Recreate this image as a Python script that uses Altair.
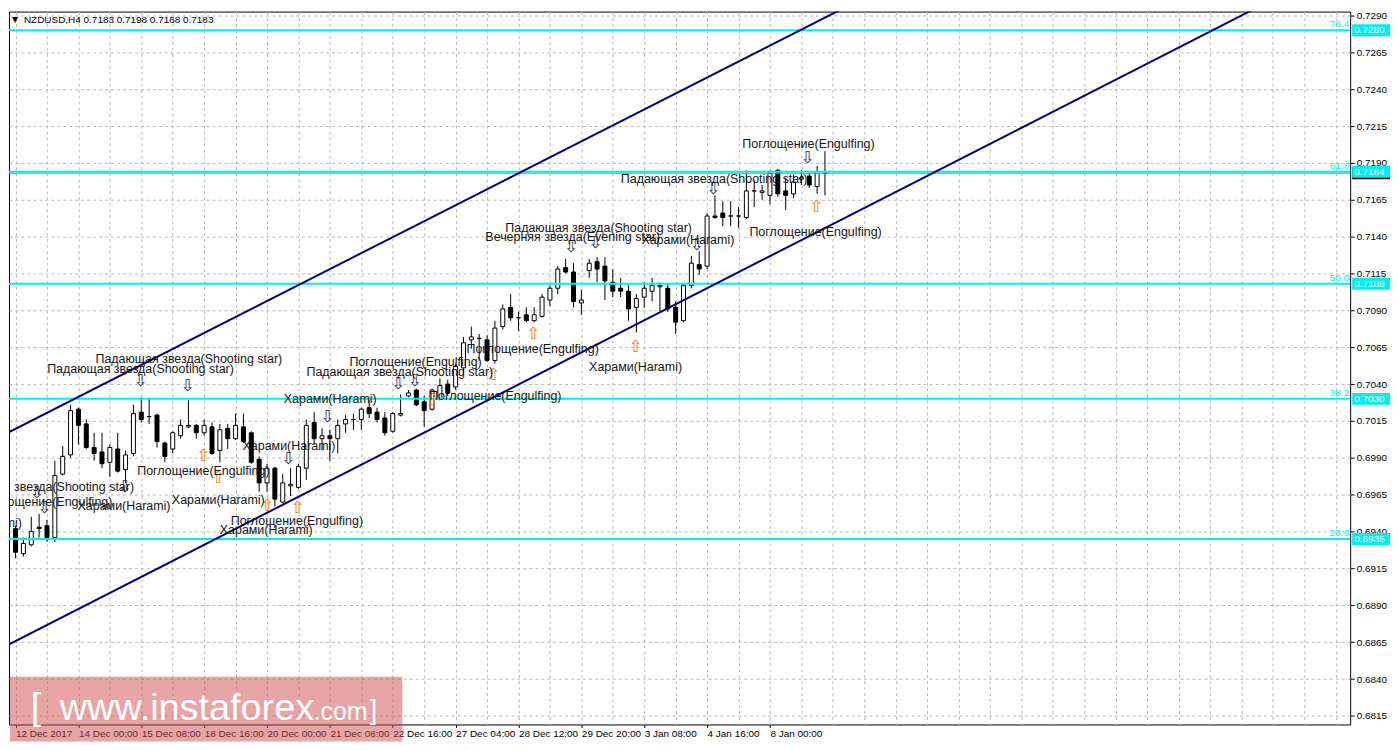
import json
import altair as alt
import pandas as pd

# ------------------------------------------------------------------ data
opens = [
    0.6942, 0.6925, 0.6931, 0.6943, 0.6944, 0.6936, 0.6979, 0.6992, 0.7023, 0.7013,
    0.6997, 0.6994, 0.6987, 0.6996, 0.6982, 0.6993, 0.7021, 0.7018, 0.7019, 0.7000,
    0.6996, 0.7005, 0.7011, 0.7012, 0.7007, 0.7011, 0.6995, 0.7010, 0.7003, 0.7011,
    0.7007, 0.6989, 0.6973, 0.6983, 0.6960, 0.6971, 0.6970, 0.6983, 0.7014, 0.7003,
    0.7005, 0.7003, 0.7013, 0.7016, 0.7016, 0.7024, 0.7021, 0.7017, 0.7008, 0.7019,
    0.7032, 0.7036, 0.7028, 0.7023, 0.7030, 0.7040, 0.7038, 0.7051, 0.7070, 0.7071,
    0.7070, 0.7056, 0.7079, 0.7092, 0.7085, 0.7087, 0.7083, 0.7086, 0.7097, 0.7105,
    0.7119, 0.7116, 0.7095, 0.7117, 0.7123, 0.7120, 0.7109, 0.7105, 0.7103, 0.7092,
    0.7099, 0.7103, 0.7106, 0.7105, 0.7092, 0.7083, 0.7107, 0.7121, 0.7120, 0.7154,
    0.7156, 0.7154, 0.7154, 0.7153, 0.7171, 0.7170, 0.7168, 0.7185, 0.7171, 0.7169,
    0.7179, 0.7181, 0.7174, 0.7183]
highs = [
    0.6944, 0.6936, 0.6950, 0.6952, 0.6948, 0.6988, 0.6998, 0.7026, 0.7024, 0.7016,
    0.7007, 0.7007, 0.6999, 0.7007, 0.6995, 0.7026, 0.7031, 0.7030, 0.7020, 0.7001,
    0.7008, 0.7016, 0.7029, 0.7013, 0.7016, 0.7014, 0.7013, 0.7013, 0.7020, 0.7020,
    0.7008, 0.6991, 0.6986, 0.6984, 0.6979, 0.6983, 0.6986, 0.7016, 0.7021, 0.7010,
    0.7009, 0.7016, 0.7019, 0.7020, 0.7024, 0.7029, 0.7024, 0.7021, 0.7021, 0.7033,
    0.7036, 0.7037, 0.7032, 0.7037, 0.7044, 0.7043, 0.7054, 0.7072, 0.7079, 0.7074,
    0.7073, 0.7083, 0.7094, 0.7101, 0.7089, 0.7092, 0.7092, 0.7101, 0.7107, 0.7120,
    0.7125, 0.7122, 0.7104, 0.7125, 0.7126, 0.7126, 0.7118, 0.7112, 0.7107, 0.7101,
    0.7109, 0.7112, 0.7109, 0.7108, 0.7096, 0.7108, 0.7127, 0.7130, 0.7156, 0.7168,
    0.7164, 0.7164, 0.7160, 0.7185, 0.7178, 0.7175, 0.7185, 0.7186, 0.7180, 0.7182,
    0.7185, 0.7183, 0.7188, 0.7198]
lows = [
    0.6922, 0.6923, 0.6930, 0.6936, 0.6933, 0.6933, 0.6978, 0.6990, 0.6999, 0.6996,
    0.6988, 0.6983, 0.6977, 0.6980, 0.6973, 0.6991, 0.7014, 0.7013, 0.6997, 0.6987,
    0.6993, 0.7003, 0.7010, 0.7003, 0.7005, 0.6992, 0.6987, 0.6996, 0.7002, 0.7000,
    0.6986, 0.6967, 0.6967, 0.6957, 0.6959, 0.6964, 0.6969, 0.6975, 0.6999, 0.6995,
    0.6988, 0.6993, 0.7007, 0.7009, 0.7009, 0.7017, 0.7014, 0.7005, 0.7007, 0.7018,
    0.7031, 0.7025, 0.7011, 0.7022, 0.7029, 0.7032, 0.7036, 0.7046, 0.7064, 0.7056,
    0.7055, 0.7054, 0.7077, 0.7083, 0.7076, 0.7082, 0.7082, 0.7085, 0.7093, 0.7101,
    0.7115, 0.7092, 0.7087, 0.7112, 0.7109, 0.7097, 0.7099, 0.7099, 0.7083, 0.7075,
    0.7092, 0.7096, 0.7089, 0.7089, 0.7074, 0.7082, 0.7105, 0.7114, 0.7118, 0.7152,
    0.7147, 0.7147, 0.7146, 0.7152, 0.7160, 0.7165, 0.7162, 0.7167, 0.7158, 0.7166,
    0.7175, 0.7173, 0.7169, 0.7168]
closes = [
    0.6926, 0.6932, 0.6940, 0.6942, 0.6936, 0.6978, 0.6991, 0.7022, 0.7012, 0.6997,
    0.6993, 0.6986, 0.6997, 0.6981, 0.6992, 0.7020, 0.7016, 0.7018, 0.7001, 0.6991,
    0.7007, 0.7012, 0.7012, 0.7007, 0.7012, 0.6993, 0.7009, 0.7003, 0.7012, 0.7001,
    0.6987, 0.6973, 0.6983, 0.6962, 0.6973, 0.6972, 0.6984, 0.7012, 0.7003, 0.7005,
    0.7003, 0.7012, 0.7016, 0.7016, 0.7023, 0.7020, 0.7016, 0.7007, 0.7020, 0.7020,
    0.7034, 0.7026, 0.7022, 0.7036, 0.7039, 0.7034, 0.7052, 0.7068, 0.7072, 0.7071,
    0.7056, 0.7078, 0.7091, 0.7085, 0.7085, 0.7083, 0.7087, 0.7099, 0.7105, 0.7118,
    0.7116, 0.7096, 0.7097, 0.7122, 0.7118, 0.7110, 0.7103, 0.7103, 0.7091, 0.7098,
    0.7105, 0.7107, 0.7107, 0.7091, 0.7082, 0.7107, 0.7122, 0.7118, 0.7154, 0.7153,
    0.7153, 0.7154, 0.7154, 0.7171, 0.7171, 0.7171, 0.7183, 0.7169, 0.7168, 0.7177,
    0.7180, 0.7175, 0.7184, 0.7183]

time_labels = ["12 Dec 2017", "14 Dec 00:00", "15 Dec 08:00", "18 Dec 16:00",
               "20 Dec 00:00", "21 Dec 08:00", "22 Dec 16:00", "27 Dec 04:00",
               "28 Dec 12:00", "29 Dec 20:00", "3 Jan 08:00", "4 Jan 16:00",
               "8 Jan 00:00"]
price_ticks = [0.6815, 0.6840, 0.6865, 0.6890, 0.6915, 0.6940, 0.6965, 0.6990,
               0.7015, 0.7040, 0.7065, 0.7090, 0.7115, 0.7140, 0.7165, 0.7190,
               0.7215, 0.7240, 0.7265, 0.7290]

fib_prices = [0.7280, 0.7184, 0.7108, 0.7030, 0.6935]
fib_pcts = ["76.4", "61.8", "50.0", "38.2", "23.6"]
current_price = 0.7183

channel_names = ["upper", "upper", "lower", "lower"]
channel_bars = [-1, 115, -1, 170]
channel_prices = [0.7007, 0.7321, 0.6863, 0.7328]

SS = "Падающая звезда(Shooting star)"
EN = "Поглощение(Engulfing)"
HA = "Харами(Harami)"
ES = "Вечерняя звезда(Evening star)"
pattern_texts = [SS, SS, EN, SS, HA, EN, EN, HA, SS, EN, HA, HA, EN, HA, HA,
                 SS, ES, HA, EN, HA, EN, SS, EN]
pattern_bars = [22.05, 15.9, 50.9, 48.9, 40.05, 61.05, 23.9, 34.8, 3.2, 3.9, 13.8,
                25.8, 35.8, 31.9, -5.1, 74.2, 70.9, 85.55, 65.8, 78.9, 100.9,
                88.9, 101.8]
pattern_prices = [0.7057, 0.7050, 0.7055, 0.7048, 0.7030, 0.7032, 0.6981, 0.6998,
                  0.6970, 0.6960, 0.6957, 0.69615, 0.6947, 0.6941, 0.6946, 0.7146,
                  0.7140, 0.7138, 0.70635, 0.70515, 0.7203, 0.7179, 0.7143]

arrow_dirs = ["down"] * 14 + ["up"] * 9
arrow_bars = [15.9, 21.9, 39.7, 48.7, 50.8, 70.7, 73.8, 86.7, 88.8, 100.8, 13.9,
              34.7, 2.7, 3.7,
              23.9, 25.8, 32.05, 35.9, 60.8, 53.05, 65.9, 78.9, 101.9]
arrow_prices = [0.7042, 0.7039, 0.7018, 0.7040, 0.7042, 0.7133, 0.7136, 0.7134,
                0.7172, 0.7193, 0.6970, 0.6989, 0.6966, 0.6956,
                0.6991, 0.6976, 0.6957, 0.6956, 0.7046, 0.7029, 0.7074, 0.7065,
                0.7160]

symbol_title = "NZDUSD,H4  0.7183 0.7198 0.7168 0.7183"

# ------------------------------------------------------------------ frames
candles = pd.DataFrame({"bar": list(range(len(opens))), "open": opens, "high": highs,
                        "low": lows, "close": closes})
candles["fillc"] = ["white" if c >= o else "black" for o, c in zip(opens, closes)]

fib = pd.DataFrame({"price": fib_prices, "pct": fib_pcts,
                    "label": [f"{p:.4f}" for p in fib_prices]})
cur = pd.DataFrame({"price": [current_price]})
chan = pd.DataFrame({"line": channel_names, "bar": channel_bars, "price": channel_prices})
pats = pd.DataFrame({"label": pattern_texts, "bar": pattern_bars, "price": pattern_prices})
arrows = pd.DataFrame({"dir": arrow_dirs, "bar": arrow_bars, "price": arrow_prices})
arrows["glyph"] = ["⇩" if d == "down" else "⇧" for d in arrows["dir"]]
arrows["col"] = ["#2e3560" if d == "down" else "#f08000" for d in arrows["dir"]]

# ------------------------------------------------------------------ styling
W, H = 1347, 716
FONT = "Liberation Sans"
CYAN = "#00f0f0"
NAVY = "#00007f"
GRID = "#b8b8b8"

xs = alt.Scale(domain=[-0.2, 169.2], nice=False, zero=False)
ys = alt.Scale(domain=[0.68092, 0.72926], nice=False, zero=False)

lab_cond = "(datum.value % 8 === 0 && datum.value <= 96)"
x_axis = alt.Axis(
    values=list(range(0, 169, 4)), grid=True, gridColor=GRID, gridDash=[3, 3],
    gridWidth=1, domain=False, title=None,
    tickColor={"condition": {"test": lab_cond, "value": "black"}, "value": "transparent"},
    tickSize=3, tickWidth=1,
    labelExpr=f"{lab_cond} ? {json.dumps(time_labels, ensure_ascii=False)}[round(datum.value / 8)] : ''",
    labelAlign="left", labelBaseline="top", labelPadding=1, labelFont=FONT,
    labelFontSize=10, labelColor="black", labelFlush=False, labelOverlap=False)
y_axis = alt.Axis(
    orient="right", values=price_ticks, format=".4f", grid=True, gridColor=GRID,
    gridDash=[3, 3], gridWidth=1, domain=False, title=None, tickSize=4,
    tickColor="black", labelPadding=2, labelFont=FONT, labelFontSize=10,
    labelColor="black", labelOverlap=False)


def X(f):
    return alt.X(f, scale=xs, axis=x_axis)


def Y(f):
    return alt.Y(f, scale=ys, axis=y_axis)


wick = alt.Chart(candles).mark_rule(color="black", strokeWidth=1).encode(
    x=X("bar:Q"), y=Y("low:Q"), y2="high:Q")
body = alt.Chart(candles).mark_bar(size=4, stroke="black", strokeWidth=1).encode(
    x=X("bar:Q"), y=Y("open:Q"), y2="close:Q", fill=alt.Fill("fillc:N", scale=None))

cur_line = alt.Chart(cur).mark_rule(color="#8a8a8a", strokeWidth=1).encode(y=Y("price:Q"))
fib_lines = alt.Chart(fib).mark_rule(color=CYAN, strokeWidth=2).encode(y=Y("price:Q"))
fib_text = alt.Chart(fib).mark_text(align="right", baseline="bottom", dy=-1, color=CYAN,
                                    font=FONT, fontSize=10).encode(
    x=alt.value(W - 1), y=Y("price:Q"), text="pct:N")

BOX = "M-1,-0.3158L1,-0.3158L1,0.3158L-1,0.3158Z"
cur_box = alt.Chart(cur).mark_point(shape=BOX, filled=True, size=38 * 38, color="black",
                                    opacity=1, strokeWidth=0).encode(
    x=alt.value(W + 21), y=Y("price:Q"))
fib_box = alt.Chart(fib).mark_point(shape=BOX, filled=True, size=38 * 38, color=CYAN,
                                    opacity=1, strokeWidth=0).encode(
    x=alt.value(W + 21), y=Y("price:Q"))
fib_box_text = alt.Chart(fib).mark_text(align="left", baseline="middle", color="white",
                                        font=FONT, fontSize=10).encode(
    x=alt.value(W + 4), y=Y("price:Q"), text="label:N")

channels = alt.Chart(chan).mark_line(color=NAVY, strokeWidth=2, clip=True).encode(
    x=X("bar:Q"), y=Y("price:Q"), detail="line:N")

arrow_marks = alt.Chart(arrows).mark_text(font="DejaVu Sans", fontSize=17, clip=True,
                                          baseline="middle").encode(
    x=X("bar:Q"), y=Y("price:Q"), text="glyph:N", color=alt.Color("col:N", scale=None))
pattern_marks = alt.Chart(pats).mark_text(font=FONT, fontSize=12.5, color="#151515",
                                          clip=True, baseline="middle").encode(
    x=X("bar:Q"), y=Y("price:Q"), text="label:N")

one = pd.DataFrame({"t": [symbol_title]})
tri = alt.Chart(one).mark_text(text="▼", font="DejaVu Sans", fontSize=8, align="left",
                               baseline="middle", color="black").encode(
    x=alt.value(3), y=alt.value(8))
title = alt.Chart(one).mark_text(font=FONT, fontSize=10, align="left", baseline="middle",
                                 color="black").encode(
    x=alt.value(15), y=alt.value(8), text="t:N")

wm_rect = alt.Chart(one).mark_rect(color="#d24b4b", opacity=0.5).encode(
    x=alt.value(1), x2=alt.value(395), y=alt.value(H - 48), y2=alt.value(H + 17))
wm_open = alt.Chart(one).mark_text(text="[", font=FONT, fontSize=38, color="white",
                                   align="center", baseline="alphabetic").encode(
    x=alt.value(27), y=alt.value(H - 6))
wm_main = alt.Chart(one).mark_text(text="www.instaforex", font=FONT, fontSize=38,
                                   color="white", align="left",
                                   baseline="alphabetic").encode(
    x=alt.value(51), y=alt.value(H - 5))
wm_com = alt.Chart(one).mark_text(text=".com", font=FONT, fontSize=25, color="white",
                                  align="left", baseline="alphabetic").encode(
    x=alt.value(306), y=alt.value(H - 5))
wm_close = alt.Chart(one).mark_text(text="]", font=FONT, fontSize=27, color="white",
                                    align="center", baseline="alphabetic").encode(
    x=alt.value(366), y=alt.value(H - 6))

chart = alt.layer(
    wick, body, cur_line, fib_lines, channels, arrow_marks, pattern_marks, fib_text,
    cur_box, fib_box, fib_box_text, tri, title,
    wm_rect, wm_open, wm_main, wm_com, wm_close,
).properties(
    width=W, height=H, padding={"left": 0, "top": 0, "right": 0, "bottom": 0},
    background="white",
).configure_view(stroke="black", strokeWidth=1)

chart.save("out.html", embed_options={"renderer": "svg", "actions": False})
